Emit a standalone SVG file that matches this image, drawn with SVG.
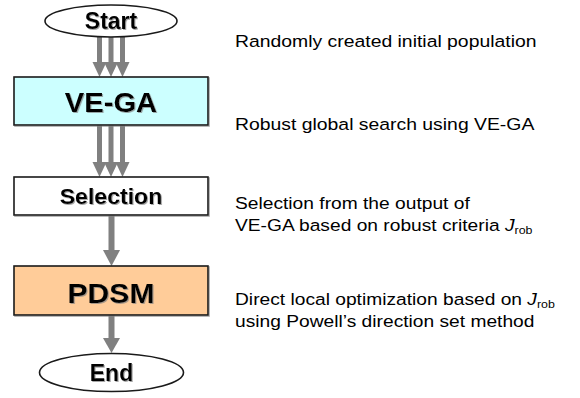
<svg xmlns="http://www.w3.org/2000/svg" width="580" height="398" viewBox="0 0 580 398">
<style>
.node{stroke:#1a1a1a;stroke-width:1.6}
.lbl{font-family:"Liberation Sans",Arial,sans-serif;font-weight:bold;fill:#000;text-anchor:middle}
.desc{font-family:"Liberation Sans",Arial,sans-serif;font-size:17px;fill:#000}
.sub{font-size:11px}
</style>
<defs>
<filter id="sh" x="-10%" y="-10%" width="130%" height="140%">
<feDropShadow dx="1" dy="1" stdDeviation="0.4" flood-color="#808080" flood-opacity="0.7"/>
</filter>
</defs>
<rect width="580" height="398" fill="#fff"/>
<g id="connectors" fill="#808080">
<rect x="97" y="37" width="5" height="26"/>
<rect x="108.5" y="37" width="5" height="26"/>
<rect x="120" y="37" width="5" height="26"/>
<polygon points="92.5,62 106.5,62 99.5,77"/>
<polygon points="104,62 118,62 111,77"/>
<polygon points="115.5,62 129.5,62 122.5,77"/>
<rect x="97" y="125" width="5" height="38"/>
<rect x="108.5" y="125" width="5" height="38"/>
<rect x="120" y="125" width="5" height="38"/>
<polygon points="92.5,162 106.5,162 99.5,177"/>
<polygon points="104,162 118,162 111,177"/>
<polygon points="115.5,162 129.5,162 122.5,177"/>
<rect x="108.5" y="215" width="6" height="36"/>
<polygon points="103,250 120,250 111.5,266"/>
<rect x="108.5" y="315" width="6" height="24"/>
<polygon points="103,338 120,338 111.5,353"/>
</g>
<g id="start">
<ellipse class="node" cx="111" cy="21" rx="66" ry="16" fill="#fff"/>
<text class="lbl" x="111" y="29" font-size="23" filter="url(#sh)">Start</text>
</g>
<g id="vega">
<rect class="node" x="14" y="77" width="194" height="48" fill="#ccffff" filter="url(#sh)"/>
<text class="lbl" transform="translate(111 112) scale(1.08 1)" font-size="27" filter="url(#sh)">VE-GA</text>
</g>
<g id="selection">
<rect class="node" x="14" y="177" width="194" height="38" fill="#fff" filter="url(#sh)"/>
<text class="lbl" transform="translate(111 204) scale(1.05 1)" font-size="22" filter="url(#sh)">Selection</text>
</g>
<g id="pdsm">
<rect class="node" x="14" y="266" width="194" height="49" fill="#ffcc99" filter="url(#sh)"/>
<text class="lbl" transform="translate(111 303) scale(1.075 1)" font-size="28" filter="url(#sh)">PDSM</text>
</g>
<g id="end">
<ellipse class="node" cx="111.5" cy="372.5" rx="72" ry="19" fill="#fff"/>
<text class="lbl" x="111.5" y="381" font-size="23" filter="url(#sh)">End</text>
</g>
<g id="descriptions">
<text class="desc" transform="translate(235 47) scale(1.14 1)">Randomly created initial population</text>
<text class="desc" transform="translate(235 130) scale(1.14 1)">Robust global search using VE-GA</text>
<text class="desc" transform="translate(235 209) scale(1.13 1)">Selection from the output of</text>
<text class="desc" transform="translate(235 231) scale(1.13 1)">VE-GA based on robust criteria <tspan font-style="italic">J</tspan><tspan class="sub" dy="3">rob</tspan></text>
<text class="desc" transform="translate(235 305) scale(1.13 1)">Direct local optimization based on <tspan font-style="italic">J</tspan><tspan class="sub" dy="3">rob</tspan></text>
<text class="desc" transform="translate(235 327) scale(1.13 1)">using Powell’s direction set method</text>
</g>
</svg>
